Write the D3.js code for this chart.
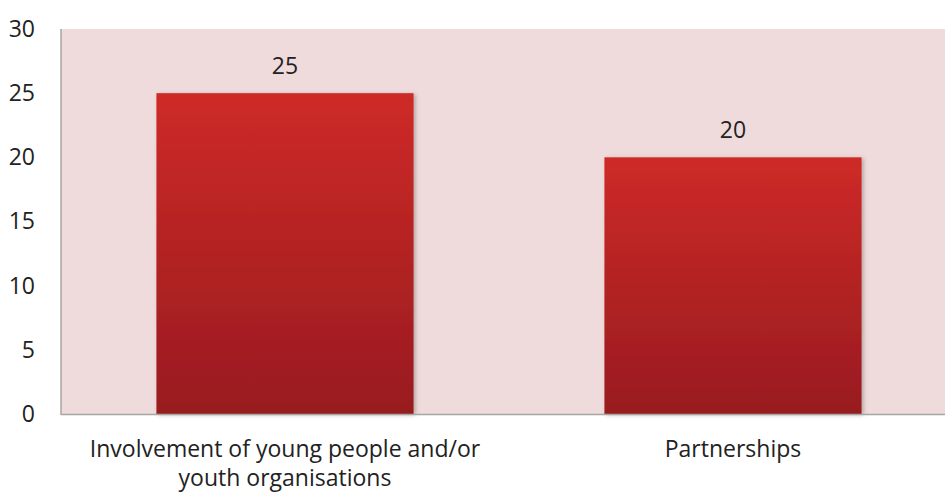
<!DOCTYPE html>
<html><head><meta charset="utf-8">
<script src="https://cdn.jsdelivr.net/npm/d3@7"></script>
<style>body{margin:0;background:#fff}svg{display:block}</style>
</head><body>
<svg id="c" width="945" height="493"></svg>
<script>
const categories = [["Involvement of young people and/or","youth organisations"],["Partnerships"]];
const values = [25, 20];
const yTicks = [0,5,10,15,20,25,30];

(function(){
const svg = d3.select("#c");
const mLeft = 61, mTop = 29, mBottom = 414, mRight = 957;
const x = d3.scaleBand().domain(d3.range(values.length)).range([mLeft, mRight]).paddingInner(0.426).paddingOuter(0.213);
const y = d3.scaleLinear().domain([0,30]).range([mBottom, mTop]);
const font = "'Open Sans', sans-serif";
const fs = 23;

const defs = svg.append("defs");
const g = defs.append("linearGradient").attr("id","bg").attr("x1",0).attr("y1",0).attr("x2",0).attr("y2",1);
g.append("stop").attr("offset","0%").attr("stop-color","#CE2A27");
g.append("stop").attr("offset","100%").attr("stop-color","#981B1F");
const f = defs.append("filter").attr("id","sh").attr("x","-10%").attr("y","-10%").attr("width","130%").attr("height","130%");
f.append("feDropShadow").attr("dx",2).attr("dy",1).attr("stdDeviation",2).attr("flood-color","#000").attr("flood-opacity",0.25);

svg.append("rect").attr("x",mLeft).attr("y",mTop).attr("width",945-mLeft).attr("height",mBottom-mTop).attr("fill","#EFDBDB");

svg.selectAll(".bar").data(values).join("rect")
  .attr("x",(d,i)=>x(i)).attr("y",d=>y(d)).attr("width",x.bandwidth()).attr("height",d=>mBottom-y(d))
  .attr("fill","url(#bg)").attr("filter","url(#sh)");

svg.append("line").attr("x1",mLeft).attr("x2",mLeft).attr("y1",mTop).attr("y2",mBottom+1).attr("stroke","#A6A6A6").attr("stroke-width",1.5);
svg.append("line").attr("x1",mLeft).attr("x2",945).attr("y1",mBottom+0.5).attr("y2",mBottom+0.5).attr("stroke","#A6A6A6").attr("stroke-width",1.5);

const yAxis = d3.axisLeft(y).tickValues(yTicks).tickSize(0).tickPadding(26);
const ya = svg.append("g").attr("transform",`translate(${mLeft},0)`).call(yAxis);
ya.select(".domain").remove();
ya.selectAll("text").attr("font-family",font).attr("font-size",fs).attr("fill","#222");

svg.selectAll(".vl").data(values).join("text")
  .attr("x",(d,i)=>x(i)+x.bandwidth()/2).attr("y",d=>y(d)-19)
  .attr("text-anchor","middle").attr("font-family",font).attr("font-size",fs).attr("fill","#222")
  .text(d=>d);

categories.forEach((lines,i)=>{
  const t = svg.append("text").attr("text-anchor","middle").attr("font-family",font).attr("font-size",fs).attr("fill","#222");
  lines.forEach((l,j)=>t.append("tspan").attr("x",x(i)+x.bandwidth()/2).attr("y",457+j*29).text(l));
});
})();
</script>
</body></html>
